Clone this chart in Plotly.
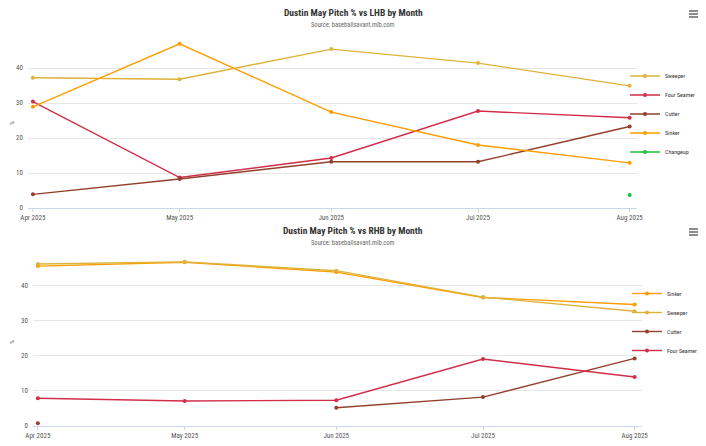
import plotly.graph_objects as go

months = ["2025-04-01", "2025-05-01", "2025-06-01", "2025-07-01", "2025-08-01"]
tick_labels = ["Apr 2025", "May 2025", "Jun 2025", "Jul 2025", "Aug 2025"]

# vs LHB
lhb_names = ["Sweeper", "Four Seamer", "Cutter", "Sinker", "Changeup"]
lhb_sweeper = [37.2, 36.8, 45.4, 41.4, 34.9]
lhb_four_seamer = [30.4, 8.7, 14.3, 27.7, 25.8]
lhb_cutter = [3.9, 8.3, 13.2, 13.2, 23.3]
lhb_sinker = [28.9, 46.9, 27.4, 18.0, 12.9]
lhb_changeup = [None, None, None, None, 3.7]

# vs RHB
rhb_names = ["Sinker", "Sweeper", "Cutter", "Four Seamer"]
rhb_sinker = [45.4, 46.5, 43.7, 36.5, 34.5]
rhb_sweeper = [46.0, 46.6, 44.1, 36.6, 32.6]
rhb_cutter = [0.8, None, 5.2, 8.2, 19.2]
rhb_four_seamer = [7.9, 7.1, 7.3, 19.0, 13.9]

colors = {
    "Sweeper": "#DDB33A",
    "Four Seamer": "#D22D49",
    "Cutter": "#933F2C",
    "Sinker": "#FE9D00",
    "Changeup": "#1DBE3A",
}

FONT = "Liberation Sans Narrow, Roboto Condensed, Roboto, sans-serif"
# the page body adds an 8px margin, so the figure fills the rest of the window
OFF = 8
W, H = 706 - OFF, 446 - OFF


def px(x):
    return (x - OFF) / W


def py(y):
    return (H - (y - OFF)) / H


fig = go.Figure()

lhb_vals = [lhb_sweeper, lhb_four_seamer, lhb_cutter, lhb_sinker, lhb_changeup]
for name, vals in zip(lhb_names, lhb_vals):
    fig.add_trace(go.Scatter(
        x=months, y=vals, name=name, mode="lines+markers",
        line=dict(color=colors[name], width=1.4),
        marker=dict(color=colors[name], size=4),
        xaxis="x", yaxis="y", legend="legend",
    ))

rhb_vals = [rhb_sinker, rhb_sweeper, rhb_cutter, rhb_four_seamer]
for name, vals in zip(rhb_names, rhb_vals):
    fig.add_trace(go.Scatter(
        x=months, y=vals, name=name, mode="lines+markers",
        line=dict(color=colors[name], width=1.4),
        marker=dict(color=colors[name], size=4),
        xaxis="x2", yaxis="y2", legend="legend2",
    ))

xrange = ["2025-03-31", "2025-08-02 12:00"]
common_x = dict(
    type="date", range=xrange, tickvals=months, ticktext=tick_labels,
    showgrid=False, showline=True, linecolor="#ccd6eb", linewidth=1,
    ticks="outside", ticklen=3, tickcolor="#ccd6eb", automargin=False,
    tickfont=dict(family=FONT, size=7, color="#555555"), zeroline=False,
)
common_y = dict(
    tickvals=[0, 10, 20, 30, 40], showgrid=True, gridcolor="#e6e6e6",
    zeroline=False, showline=False, automargin=False, ticklabelstandoff=4,
    tickfont=dict(family=FONT, size=7, color="#555555"),
    title=dict(text="%", font=dict(family=FONT, size=6, color="#555555"), standoff=8),
)

leg_font = dict(family=FONT, size=6, color="#333333")
fig.update_layout(
    width=W, height=H, autosize=False,
    margin=dict(l=0, r=0, t=0, b=0, autoexpand=False),
    paper_bgcolor="white", plot_bgcolor="white",
    font=dict(family=FONT),
    xaxis=dict(domain=[px(28), px(637)], anchor="y", **common_x),
    yaxis=dict(domain=[py(208), py(38)], range=[0, 48.57], anchor="x", **common_y),
    xaxis2=dict(domain=[px(33), px(642)], anchor="y2", **common_x),
    yaxis2=dict(domain=[py(426), py(258)], range=[0, 47.7], anchor="x2", **common_y),
    legend=dict(x=px(625), y=py(114), xanchor="left", yanchor="middle",
                font=leg_font, bgcolor="rgba(0,0,0,0)", tracegroupgap=0, itemwidth=30),
    legend2=dict(x=px(627), y=py(322), xanchor="left", yanchor="middle",
                 font=leg_font, bgcolor="rgba(0,0,0,0)", tracegroupgap=0, itemwidth=30),
    showlegend=True,
    annotations=[
        dict(text="<b>Dustin May Pitch % vs LHB by Month</b>", x=px(353), y=py(12),
             xref="paper", yref="paper", showarrow=False, yanchor="middle",
             font=dict(family=FONT, size=9.5, color="#333333")),
        dict(text="Source: baseballsavant.mlb.com", x=px(353), y=py(25),
             xref="paper", yref="paper", showarrow=False, yanchor="middle",
             font=dict(family=FONT, size=6.5, color="#666666")),
        dict(text="<b>Dustin May Pitch % vs RHB by Month</b>", x=px(353), y=py(230),
             xref="paper", yref="paper", showarrow=False, yanchor="middle",
             font=dict(family=FONT, size=9.5, color="#333333")),
        dict(text="Source: baseballsavant.mlb.com", x=px(353), y=py(243),
             xref="paper", yref="paper", showarrow=False, yanchor="middle",
             font=dict(family=FONT, size=6.5, color="#666666")),
    ],
)

# hamburger menu icons
shapes = []
for cy in (14, 232):
    for dy in (-3, 0, 3):
        yy = py(cy + dy)
        shapes.append(dict(type="line", xref="paper", yref="paper",
                           x0=px(689), x1=px(698), y0=yy, y1=yy,
                           line=dict(color="#666666", width=1.5)))
fig.update_layout(shapes=shapes)

fig.write_html("out.html")
